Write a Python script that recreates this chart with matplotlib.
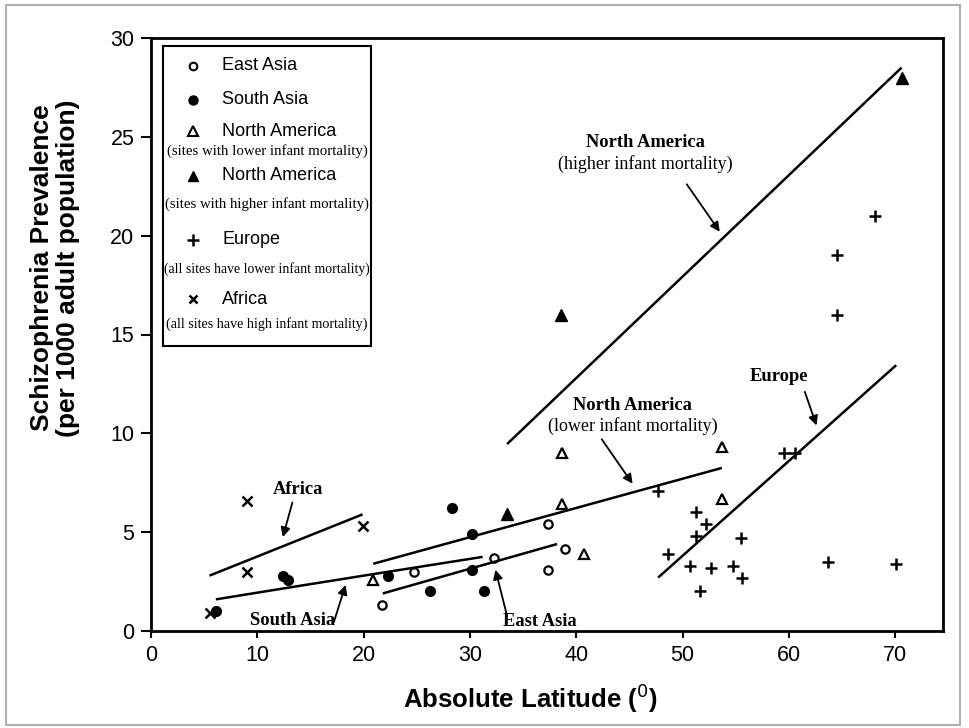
import matplotlib
matplotlib.use("Agg")
import matplotlib.pyplot as plt
from matplotlib.patches import Rectangle

# --- data: absolute latitude (deg) vs schizophrenia prevalence (per 1000) ---
east_asia_lat = [21.7, 24.7, 32.3, 37.3, 37.3, 38.9]
east_asia_prev = [1.3, 3.0, 3.7, 5.4, 3.1, 4.15]

south_asia_lat = [6.1, 12.4, 12.9, 22.3, 26.2, 28.3, 30.2, 30.2, 31.3]
south_asia_prev = [1.0, 2.8, 2.6, 2.8, 2.0, 6.2, 4.9, 3.1, 2.0]

na_low_lat = [20.9, 38.7, 38.7, 40.7, 53.7, 53.7]
na_low_prev = [2.6, 9.0, 6.4, 3.9, 9.3, 6.7]

na_high_lat = [33.5, 38.6, 70.6]
na_high_prev = [5.9, 16.0, 28.0]

europe_lat = [68.1, 64.5, 64.5, 59.5, 60.6, 47.7, 51.3, 52.2, 51.3, 55.5,
              48.6, 50.7, 52.7, 54.7, 55.6, 51.6, 63.7, 70.1]
europe_prev = [21.0, 19.0, 16.0, 9.0, 9.0, 7.1, 6.0, 5.4, 4.8, 4.7,
               3.9, 3.3, 3.2, 3.3, 2.7, 2.0, 3.5, 3.4]

africa_lat = [9.0, 19.9, 9.0, 5.55]
africa_prev = [6.6, 5.3, 3.0, 0.9]

# regression lines (latitude range and fitted prevalence)
fit_africa = ([5.5, 19.9], [2.8, 5.9])
fit_south_asia = ([6.1, 13.0, 20.0, 31.2], [1.6, 2.2, 2.8, 3.75])
fit_east_asia = ([21.8, 38.2], [1.9, 4.4])
fit_na_low = ([20.9, 53.7], [3.4, 8.25])
fit_na_high = ([33.5, 70.6], [9.46, 28.5])
fit_europe = ([47.7, 70.1], [2.7, 13.45])

x_ticks = [0, 10, 20, 30, 40, 50, 60, 70]
y_ticks = [0, 5, 10, 15, 20, 25, 30]

SANS = ["Liberation Sans", "DejaVu Sans"]
SERIF = ["Liberation Serif", "DejaVu Serif"]

fig = plt.figure(figsize=(9.69, 7.28), dpi=100)
fig.patches.append(Rectangle((6 / 969, 3 / 728), 954 / 969, 720 / 728,
                             transform=fig.transFigure, fill=False,
                             edgecolor="#b0b0b0", linewidth=1.5))
ax = fig.add_axes([151 / 969, 97 / 728, 792 / 969, 593 / 728])

# scatter markers
ax.plot(east_asia_lat, east_asia_prev, "o", mfc="white", mec="black", mew=1.6, ms=6, ls="none")
ax.plot(south_asia_lat, south_asia_prev, "o", color="black", ms=7, ls="none")
ax.plot(na_low_lat, na_low_prev, "^", mfc="white", mec="black", mew=1.6, ms=7, ls="none")
ax.plot(na_high_lat, na_high_prev, "^", color="black", ms=8, ls="none")
ax.plot(europe_lat, europe_prev, "+", color="black", mew=1.8, ms=9, ls="none")
ax.plot(africa_lat, africa_prev, "x", color="black", mew=1.8, ms=7, ls="none")

# regression lines
for xs, ys in [fit_africa, fit_south_asia, fit_east_asia, fit_na_low, fit_na_high, fit_europe]:
    ax.plot(xs, ys, color="black", lw=1.8, solid_capstyle="butt")

# labelled arrows
arrow = dict(arrowstyle="-|>", color="black", lw=1.3, mutation_scale=14, shrinkA=0, shrinkB=0)
bold_serif = dict(family=SERIF, fontweight="bold", fontsize=13.3)
reg_serif = dict(family=SERIF, fontsize=13)

ax.annotate("", xy=(12.4, 4.75), xytext=(13.3, 6.5), arrowprops=arrow)
ax.text(13.8, 7.15, "Africa", ha="center", va="center", **bold_serif)

ax.annotate("", xy=(18.3, 2.33), xytext=(17.2, 0.45), arrowprops=arrow)
ax.text(13.3, 0.55, "South Asia", ha="center", va="center", **bold_serif)

ax.annotate("", xy=(32.4, 3.1), xytext=(33.5, 0.75), arrowprops=arrow)
ax.text(36.6, 0.5, "East Asia", ha="center", va="center", **bold_serif)

ax.annotate("", xy=(45.3, 7.45), xytext=(42.4, 9.7), arrowprops=arrow)
ax.text(45.3, 11.4, "North America", ha="center", va="center", **bold_serif)
ax.text(45.3, 10.35, "(lower infant mortality)", ha="center", va="center", **reg_serif)

ax.annotate("", xy=(53.5, 20.2), xytext=(50.4, 22.6), arrowprops=arrow)
ax.text(46.5, 24.7, "North America", ha="center", va="center", **bold_serif)
ax.text(46.5, 23.6, "(higher infant mortality)", ha="center", va="center", **reg_serif)

ax.annotate("", xy=(62.6, 10.4), xytext=(61.5, 12.1), arrowprops=arrow)
ax.text(59.1, 12.85, "Europe", ha="center", va="center", **bold_serif)

# legend box drawn in axes coordinates
def fy(py):
    return (631 - py) / 593

def fx(px):
    return (px - 151) / 792

ax.add_patch(Rectangle((fx(163), fy(346)), fx(371) - fx(163), fy(46) - fy(346),
                       transform=ax.transAxes, fill=False, edgecolor="black",
                       linewidth=1.5, zorder=5))
legend_rows = [
    ("East Asia", 66, dict(marker="o", mfc="white", mec="black", mew=1.5, ms=5.5), None, None, 0),
    ("South Asia", 100, dict(marker="o", color="black", ms=6.5), None, None, 0),
    ("North America", 131, dict(marker="^", mfc="white", mec="black", mew=1.5, ms=6.5),
     "(sites with lower infant mortality)", 151, 10.7),
    ("North America", 176, dict(marker="^", color="black", ms=7),
     "(sites with higher infant mortality)", 204, 10.6),
    ("Europe", 240, dict(marker="+", color="black", mew=1.8, ms=8),
     "(all sites have lower infant mortality)", 269, 9.9),
    ("Africa", 299, dict(marker="x", color="black", mew=1.8, ms=6),
     "(all sites have high infant mortality)", 324, 10.1),
]
cx = (fx(163) + fx(371)) / 2
for label, py, mstyle, sub, sub_py, sub_size in legend_rows:
    ax.plot([fx(193)], [fy(py)], transform=ax.transAxes, ls="none",
            clip_on=False, zorder=6, **mstyle)
    ax.text(fx(222), fy(py), label, transform=ax.transAxes, ha="left",
            va="center", family=SANS, fontsize=13, zorder=6)
    if sub:
        ax.text(cx, fy(sub_py), sub, transform=ax.transAxes, ha="center",
                va="center", family=SERIF, fontsize=sub_size, zorder=6)

# axes styling
ax.set_xlim(0, 74.5)
ax.set_ylim(0, 30)
ax.set_xticks(x_ticks)
ax.set_yticks(y_ticks)
ax.set_xticklabels([str(t) for t in x_ticks], family=SANS, fontsize=15.5)
ax.set_yticklabels([str(t) for t in y_ticks], family=SANS, fontsize=15.5)
ax.tick_params(axis="x", direction="out", length=5, width=1.5, pad=5)
ax.tick_params(axis="y", direction="out", length=7, width=1.5, pad=5)
for s in ax.spines.values():
    s.set_linewidth(2)

ax.set_xlabel("Absolute Latitude ($^{0}$)", family=SANS, fontweight="bold",
              fontsize=18.5)
ax.xaxis.set_label_coords((530 - 151) / 792, (631 - 698) / 593)
ax.xaxis.label.set_va("center")

fig.text(55 / 969, (728 - 268) / 728,
         "Schizophrenia Prevalence\n(per 1000 adult population)",
         family=SANS, fontweight="bold", fontsize=19, rotation=90,
         ha="center", va="center", linespacing=1.15)

fig.savefig("out.png", dpi=100)
